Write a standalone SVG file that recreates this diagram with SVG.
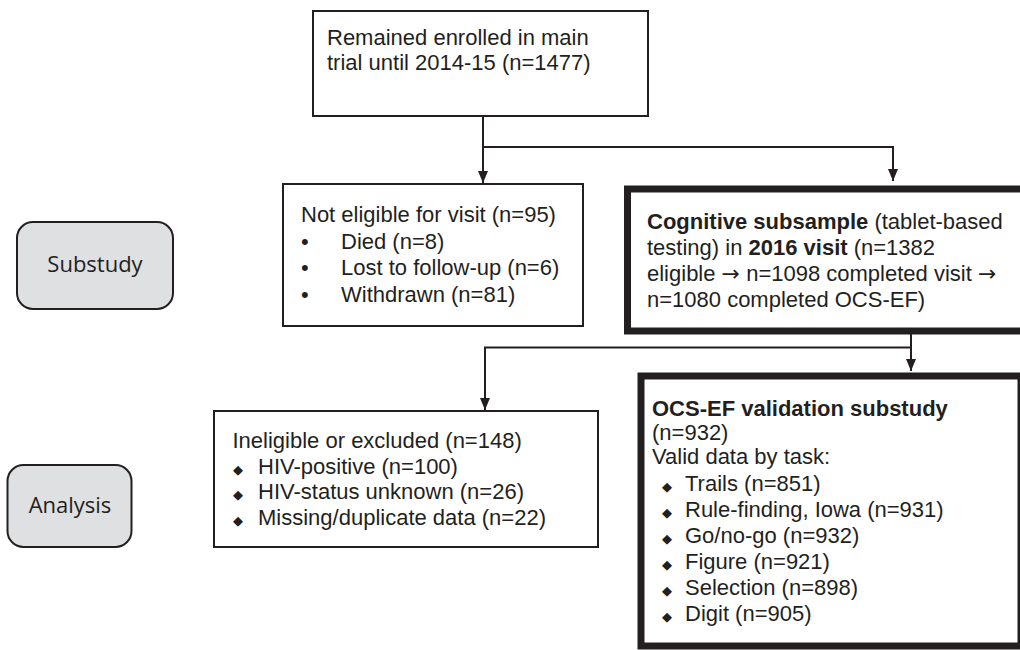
<svg xmlns="http://www.w3.org/2000/svg" width="1020" height="650" viewBox="0 0 1020 650">
<style>
.t{font-family:"Liberation Sans",Arial,sans-serif;font-size:22px;fill:#231f20}
.b{font-weight:bold}
.ar{font-family:"DejaVu Sans",sans-serif;font-size:22px}
.d{font-size:13px}
.box{fill:#fff;stroke:#231f20;stroke-width:2}
.thick{fill:#fff;stroke:#231f20;stroke-width:7}
.lab{fill:#dfe0e2;stroke:#231f20;stroke-width:2}
.lt{font-family:"Open Sans","DejaVu Sans",sans-serif;font-size:22px;fill:#231f20;text-anchor:middle}
.c{fill:none;stroke:#231f20;stroke-width:2}
</style>
<defs>
<marker id="ad" markerWidth="12" markerHeight="12" refX="12" refY="6" orient="auto" markerUnits="userSpaceOnUse" viewBox="0 0 12 12">
<path d="M0,1 L12,6 L0,11 Z" fill="#231f20"/>
</marker>
</defs>

<g id="connectors">
<path class="c" d="M483,116 V183" marker-end="url(#ad)"/>
<path class="c" d="M483,147 H893 V181" marker-end="url(#ad)"/>
<path class="c" d="M911,334 V371" marker-end="url(#ad)"/>
<path class="c" d="M911,347.5 H485 V410" marker-end="url(#ad)"/>
</g>

<g id="substudy">
<rect class="lab" x="17" y="222" width="156" height="87" rx="16"/>
<text class="lt" x="95" y="272">Substudy</text>
</g>

<g id="analysis">
<rect class="lab" x="7.5" y="465" width="124" height="82" rx="16"/>
<text class="lt" x="70" y="513">Analysis</text>
</g>

<g id="enrolled">
<rect class="box" x="313" y="11" width="335" height="105"/>
<text class="t" x="327" y="45">Remained enrolled in main</text>
<text class="t" x="327" y="70">trial until 2014-15 (n=1477)</text>
</g>

<g id="not-eligible">
<rect class="box" x="283" y="184" width="300" height="142"/>
<text class="t" x="301" y="222">Not eligible for visit (n=95)</text>
<text class="t" x="301" y="248.5">•</text><text class="t" x="341" y="248.5">Died (n=8)</text>
<text class="t" x="301" y="275">•</text><text class="t" x="341" y="275">Lost to follow-up (n=6)</text>
<text class="t" x="301" y="301.5">•</text><text class="t" x="341" y="301.5">Withdrawn (n=81)</text>
</g>

<g id="cognitive">
<rect class="thick" x="627.5" y="189" width="410" height="142"/>
<text class="t" x="647" y="228.5"><tspan class="b">Cognitive subsample</tspan> (tablet-based</text>
<text class="t" x="647" y="254.5">testing) in <tspan class="b">2016 visit</tspan> (n=1382</text>
<text class="t" x="647" y="280.5">eligible <tspan class="ar">→</tspan> n=1098 completed visit <tspan class="ar">→</tspan></text>
<text class="t" x="647" y="306.5">n=1080 completed OCS-EF)</text>
</g>

<g id="ineligible">
<rect class="box" x="214" y="411" width="384" height="136"/>
<text class="t" x="232.5" y="448">Ineligible or excluded (n=148)</text>
<text class="t d" x="232.5" y="473.5">◆</text><text class="t" x="258" y="473.5">HIV-positive (n=100)</text>
<text class="t d" x="232.5" y="499">◆</text><text class="t" x="258" y="499">HIV-status unknown (n=26)</text>
<text class="t d" x="232.5" y="524.5">◆</text><text class="t" x="258" y="524.5">Missing/duplicate data (n=22)</text>
</g>

<g id="validation">
<rect class="thick" x="641" y="376" width="380" height="270"/>
<text class="t b" x="652" y="416">OCS-EF validation substudy</text>
<text class="t" x="652" y="440">(n=932)</text>
<text class="t" x="652" y="464">Valid data by task:</text>
<text class="t d" x="662" y="491">◆</text><text class="t" x="685" y="491">Trails (n=851)</text>
<text class="t d" x="662" y="517">◆</text><text class="t" x="685" y="517">Rule-finding, Iowa (n=931)</text>
<text class="t d" x="662" y="543">◆</text><text class="t" x="685" y="543">Go/no-go (n=932)</text>
<text class="t d" x="662" y="569">◆</text><text class="t" x="685" y="569">Figure (n=921)</text>
<text class="t d" x="662" y="595">◆</text><text class="t" x="685" y="595">Selection (n=898)</text>
<text class="t d" x="662" y="620.5">◆</text><text class="t" x="685" y="620.5">Digit (n=905)</text>
</g>
</svg>
